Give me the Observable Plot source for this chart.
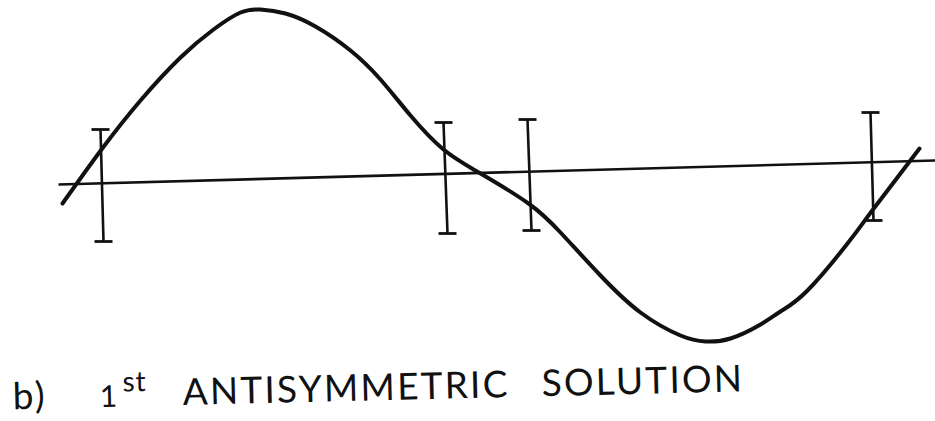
<!DOCTYPE html>
<html>
<head>
<meta charset="utf-8">
<script src="https://cdn.jsdelivr.net/npm/d3@7"></script>
<script src="https://cdn.jsdelivr.net/npm/@observablehq/plot@0.6"></script>
<style>
  html, body { margin: 0; padding: 0; background: #fff; }
  #wrap { position: relative; width: 935px; height: 421px; overflow: hidden; }
  #chart svg { display: block; }
  .cap {
    position: absolute; left: 0; top: 352px; width: 935px; height: 69px;
    font-family: Lato, "Open Sans", sans-serif; color: #111;
    transform-origin: 183px 53px; transform: rotate(-1.4deg);
  }
  .cap span { position: absolute; white-space: nowrap; font-size: 37px; line-height: 37px; letter-spacing: 2.2px; }
  .cap .one { font-size: 30px; line-height: 30px; }
  .cap .sup { font-size: 28px; line-height: 28px; letter-spacing: 1px; }
</style>
</head>
<body>
<div id="wrap">
  <div id="chart"></div>
  <div class="cap">
    <span style="left:13px; top:20px;">b)</span>
    <span class="one" style="left:100px; top:26px;">1</span>
    <span class="sup" style="left:123px; top:13px;">st</span>
    <span style="left:183px; top:20px;">ANTISYMMETRIC</span>
    <span style="left:542px; top:20px;">SOLUTION</span>
  </div>
</div>
<script>
// Mode shape: station along the span and deflection from the reference line
const station = [62, 101, 140, 180, 213, 240, 260, 285, 315, 350, 380, 410, 443, 480, 528, 560, 600, 640, 680, 705, 730, 760, 780, 807, 847, 871, 919];
const deflection = [-20, 34, 83, 126, 154, 171, 174, 170, 157, 133, 104, 68, 34, 10, -20, -49, -92, -129, -152, -158, -155, -141, -128, -107, -60, -28, 35];

// Reference (undeformed) line, slightly inclined
const refStation = [58, 935];
const refDeflection = [-1, 23];

// Range bars at the four support stations
const barTopStation = [100, 443, 527, 870];
const barBottomStation = [103, 447, 531, 873];
const barHigh = [54, 61, 64, 71];
const barLow = [-58, -50, -47, -37];

const shape = station.map((s, i) => ({s, d: deflection[i]}));
const ref = [{s1: refStation[0], d1: refDeflection[0], s2: refStation[1], d2: refDeflection[1]}];
const bars = barTopStation.map((s, i) => ({sTop: s, sBot: barBottomStation[i], hi: barHigh[i], lo: barLow[i]}));
const capHalf = 9;
const caps = bars.flatMap(b => [
  {s1: b.sTop - capHalf, s2: b.sTop + capHalf, d: b.hi},
  {s1: b.sBot - capHalf, s2: b.sBot + capHalf, d: b.lo}
]);

const ink = "#111";
const plot = Plot.plot({
  width: 935,
  height: 352,
  margin: 0,
  x: {domain: [0, 935], axis: null},
  y: {domain: [-169, 183], axis: null},
  marks: [
    Plot.link(ref, {x1: "s1", y1: "d1", x2: "s2", y2: "d2", stroke: ink, strokeWidth: 2.6}),
    Plot.link(bars, {x1: "sTop", y1: "hi", x2: "sBot", y2: "lo", stroke: ink, strokeWidth: 2.6}),
    Plot.link(caps, {x1: "s1", x2: "s2", y1: "d", y2: "d", stroke: ink, strokeWidth: 2.8}),
    Plot.line(shape, {x: "s", y: "d", curve: "natural", stroke: ink, strokeWidth: 4, strokeLinecap: "round"})
  ]
});
document.getElementById("chart").append(plot);
</script>
</body>
</html>
